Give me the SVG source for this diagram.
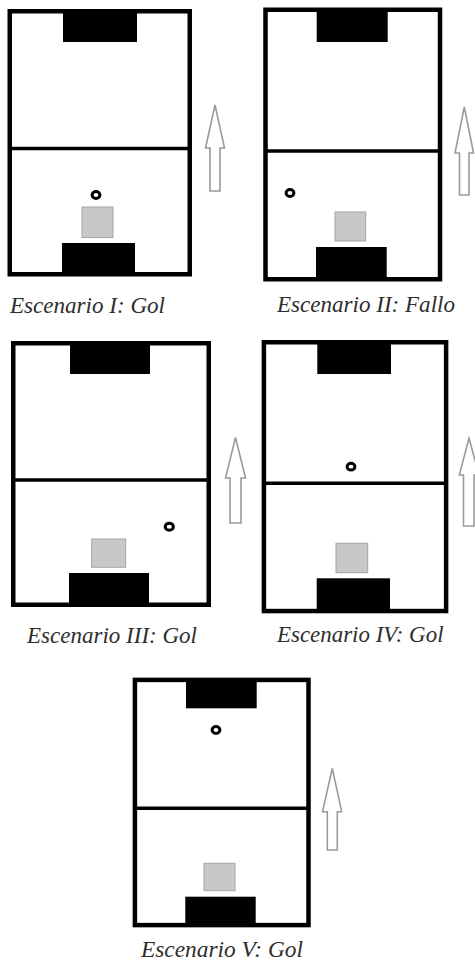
<svg xmlns="http://www.w3.org/2000/svg" width="475" height="962" viewBox="0 0 475 962">
  <style>
    .field { fill: #ffffff; stroke: #000000; stroke-width: 4.5; }
    .mid { stroke: #000000; stroke-width: 3.5; }
    .goal { fill: #000000; }
    .player { fill: #c8c8c8; stroke: #a6a6a6; stroke-width: 1; }
    .ball { fill: #ffffff; stroke: #000000; stroke-width: 3; }
    .dir { fill: #ffffff; stroke: #9a9a9a; stroke-width: 1.6; stroke-linejoin: miter; }
    .caption { font-style: italic; font-size: 23px; fill: #2e2e2e; }
  </style>
  <rect x="0" y="0" width="475" height="962" fill="#ffffff"/>

  <!-- Scenario I -->
  <g id="escenario-1">
    <rect class="field" x="9.75" y="11.25" width="180" height="263"/>
    <line class="mid" x1="9.75" y1="148.5" x2="189.75" y2="148.5"/>
    <rect class="goal" x="63" y="11" width="74" height="31"/>
    <rect class="goal" x="62" y="243" width="73" height="31.5"/>
    <rect class="player" x="82" y="207" width="31" height="30.5"/>
    <ellipse class="ball" cx="96" cy="195" rx="3.9" ry="3.4"/>
    <path class="dir" d="M215,105 L224.5,148 L220,148 L220,191 L210,191 L210,148 L205.5,148 Z"/>
    <text class="caption" font-family="'Liberation Serif', 'Times New Roman', 'DejaVu Serif', serif" x="10" y="313" textLength="155" lengthAdjust="spacingAndGlyphs">Escenario I: Gol</text>
  </g>

  <!-- Scenario II -->
  <g id="escenario-2">
    <rect class="field" x="265.5" y="9.75" width="174.5" height="269.5"/>
    <line class="mid" x1="265.5" y1="151" x2="440" y2="151"/>
    <rect class="goal" x="316.7" y="10" width="71" height="32"/>
    <rect class="goal" x="316" y="247" width="70.7" height="32"/>
    <rect class="player" x="335" y="212" width="30.7" height="29"/>
    <ellipse class="ball" cx="290" cy="193" rx="3.9" ry="3.4"/>
    <path class="dir" d="M464.3,107 L473.5,153 L469,153 L469,195 L459.5,195 L459.5,153 L455,153 Z"/>
    <text class="caption" font-family="'Liberation Serif', 'Times New Roman', 'DejaVu Serif', serif" x="277" y="312" textLength="178" lengthAdjust="spacingAndGlyphs">Escenario II: Fallo</text>
  </g>

  <!-- Scenario III -->
  <g id="escenario-3">
    <rect class="field" x="13.25" y="343.25" width="195.5" height="261.5"/>
    <line class="mid" x1="13.25" y1="480" x2="208.75" y2="480"/>
    <rect class="goal" x="70" y="343" width="80" height="31"/>
    <rect class="goal" x="69" y="573" width="80" height="32"/>
    <rect class="player" x="91.7" y="539" width="34" height="28.3"/>
    <ellipse class="ball" cx="169.3" cy="526.7" rx="4.1" ry="3.5"/>
    <path class="dir" d="M235.5,437.5 L245.5,478 L241,478 L241,523 L230,523 L230,478 L225.5,478 Z"/>
    <text class="caption" font-family="'Liberation Serif', 'Times New Roman', 'DejaVu Serif', serif" x="27" y="643" textLength="170" lengthAdjust="spacingAndGlyphs">Escenario III: Gol</text>
  </g>

  <!-- Scenario IV -->
  <g id="escenario-4">
    <rect class="field" x="263.9" y="342.25" width="182.2" height="268.8"/>
    <line class="mid" x1="263.9" y1="483.3" x2="446.1" y2="483.3"/>
    <rect class="goal" x="317.3" y="342" width="73.7" height="32"/>
    <rect class="goal" x="316.7" y="578.3" width="73.3" height="32.5"/>
    <rect class="player" x="336" y="543.3" width="31.7" height="29.4"/>
    <ellipse class="ball" cx="351" cy="466.7" rx="3.9" ry="3.4"/>
    <path class="dir" d="M469,438.3 L479,475 L474,475 L474,526 L463.5,526 L463.5,475 L459.3,475 Z"/>
    <text class="caption" font-family="'Liberation Serif', 'Times New Roman', 'DejaVu Serif', serif" x="277" y="641.7" textLength="166.5" lengthAdjust="spacingAndGlyphs">Escenario IV: Gol</text>
  </g>

  <!-- Scenario V -->
  <g id="escenario-5">
    <rect class="field" x="134.9" y="679.9" width="173.6" height="245.2"/>
    <line class="mid" x1="134.9" y1="808.3" x2="308.5" y2="808.3"/>
    <rect class="goal" x="186" y="680" width="70.7" height="28.3"/>
    <rect class="goal" x="185.3" y="896.7" width="70.4" height="28.5"/>
    <rect class="player" x="204" y="863.3" width="31" height="27.4"/>
    <ellipse class="ball" cx="216" cy="730" rx="3.9" ry="3.4"/>
    <path class="dir" d="M332.3,768.3 L341.7,811.7 L337.3,811.7 L337.3,850 L327.3,850 L327.3,811.7 L322.5,811.7 Z"/>
    <text class="caption" font-family="'Liberation Serif', 'Times New Roman', 'DejaVu Serif', serif" x="141" y="956.5" textLength="162" lengthAdjust="spacingAndGlyphs">Escenario V: Gol</text>
  </g>
</svg>
